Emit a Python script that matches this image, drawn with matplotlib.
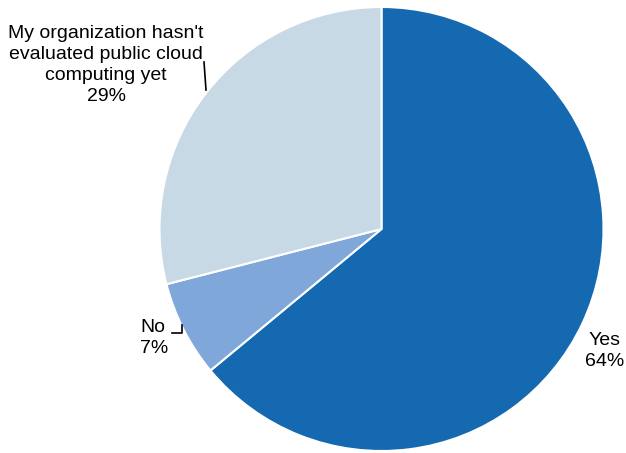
import matplotlib
matplotlib.use("Agg")
import matplotlib.pyplot as plt

categories = ["Yes", "No", "My organization hasn't\nevaluated public cloud\ncomputing yet"]
values = [64, 7, 29]
colors = ["#1569b0", "#80a7d9", "#c6d9e4"]

plt.rcParams['font.family'] = ['Liberation Sans', 'DejaVu Sans']

W, H = 626, 453
fig = plt.figure(figsize=(W / 100, H / 100), dpi=100)
cx, cy, r = 381.5, 229, 222
ax = fig.add_axes([(cx - r) / W, (H - cy - r) / H, 2 * r / W, 2 * r / H])
ax.pie(values, colors=colors, startangle=90, counterclock=False, radius=1,
       wedgeprops=dict(edgecolor="white", linewidth=1.5))
ax.set_xlim(-1, 1)
ax.set_ylim(-1, 1)
ax.set_aspect("equal")
ax.axis("off")

def d(px, py):
    return (px - cx) / r, (cy - py) / r

fs = 14
ls = 1.3
x, y = d(605, 351)
ax.text(x, y, f"{categories[0]}\n{values[0]}%", ha="center", va="center", fontsize=fs, linespacing=ls, clip_on=False)
x, y = d(140, 338)
ax.text(x, y, f"{categories[1]}\n{values[1]}%", ha="left", va="center", fontsize=fs, linespacing=ls, clip_on=False)
x, y = d(106, 65)
ax.text(x, y, f"{categories[2]}\n{values[2]}%", ha="center", va="center", fontsize=fs, linespacing=ls, clip_on=False)

# leader lines
p1, p2 = d(204, 62), d(206, 90)
ax.plot([p1[0], p2[0]], [p1[1], p2[1]], color="black", lw=1.2, clip_on=False)
a, b, c = d(172, 333), d(182, 333), d(182, 325)
ax.plot([a[0], b[0], c[0]], [a[1], b[1], c[1]], color="black", lw=1.2, clip_on=False)

fig.savefig("out.png", dpi=100)
